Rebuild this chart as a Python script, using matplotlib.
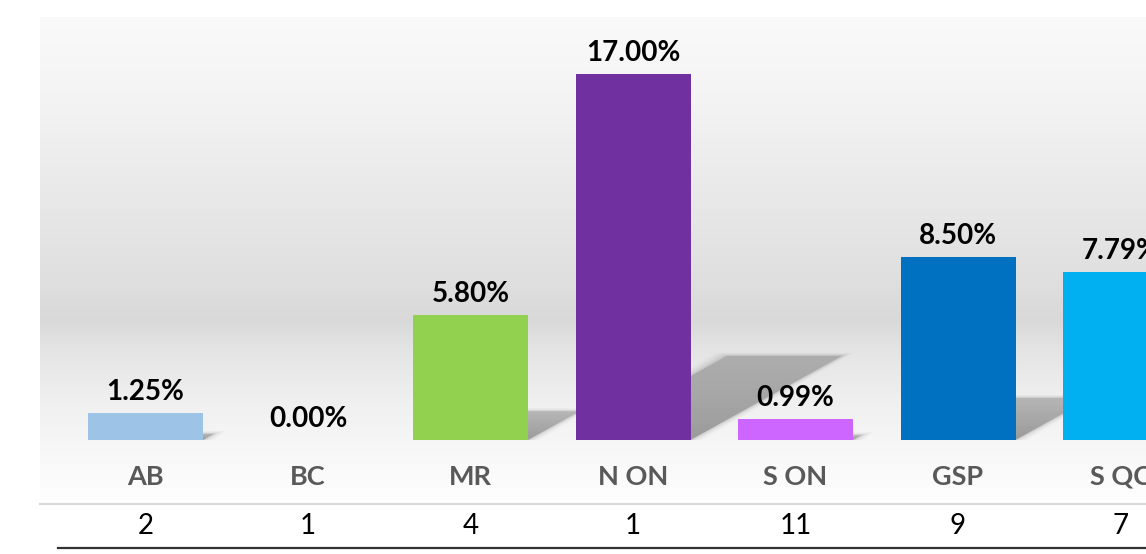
import numpy as np
import matplotlib
matplotlib.use("Agg")
import matplotlib.pyplot as plt
from matplotlib.patches import Polygon
from matplotlib import transforms
from matplotlib.colors import LinearSegmentedColormap

# ---- data ----
categories = ["AB", "BC", "MR", "N ON", "S ON", "GSP", "S QC"]
values = [1.25, 0.00, 5.80, 17.00, 0.99, 8.50, 7.79]
counts = [2, 1, 4, 1, 11, 9, 7]
bar_colors = ["#9DC3E6", "#A6A6A6", "#92D050", "#7030A0", "#CC66FF", "#0070C0", "#00B0F0"]

plt.rcParams['font.family'] = ['Lato', 'DejaVu Sans']

W, H = 1146, 554
fig = plt.figure(figsize=(W / 100, H / 100), dpi=100)
fig.patch.set_facecolor("white")

# axes region in pixels
ax_l, ax_r, ax_t, ax_b = 40, 1146, 17, 500
ax = fig.add_axes([ax_l / W, (H - ax_b) / H, (ax_r - ax_l) / W, (ax_b - ax_t) / H])

step_px = 162.5
first_center_px = 145.5
base_px = 440
px_per_unit = 366 / 17.0
xmin = (ax_l - first_center_px) / step_px
xmax = (ax_r - first_center_px) / step_px
ymin = -(ax_b - base_px) / px_per_unit
ymax = ymin + (ax_b - ax_t) / px_per_unit
ax.set_xlim(xmin, xmax)
ax.set_ylim(ymin, ymax)
ax.axis("off")

# background gradient (rows from top to bottom of axes)
stops_px = [17, 100, 200, 280, 320, 350, 400, 460, 500]
stops_gray = [0.98, 0.955, 0.91, 0.875, 0.85, 0.895, 0.94, 0.975, 0.995]
rows = np.arange(ax_t, ax_b)
g = np.interp(rows, stops_px, stops_gray)
img = np.dstack([g, g, g]).reshape(len(rows), 1, 3)
ax.imshow(img, extent=[xmin, xmax, ymin, ymax], aspect="auto", zorder=0,
          interpolation="bilinear")

x = np.arange(len(categories))
bw = 115 / step_px

# shadows
shade_cmap = LinearSegmentedColormap.from_list("sh", [(0, 0, 0, 0.26), (0, 0, 0, 0.12)])
for xi, v in zip(x, values):
    if v <= 0:
        continue
    h = 0.23 * v
    dx = 1.8 * h * px_per_unit / step_px
    x0, x1 = xi - bw / 2, xi + bw / 2
    pts = [(x0, 0), (x1, 0), (x1 + dx, h), (x0 + dx, h)]
    poly = Polygon(pts, closed=True, facecolor="none", edgecolor="none")
    ax.add_patch(poly)
    grad = np.linspace(0, 1, 50).reshape(-1, 1)
    im = ax.imshow(grad, cmap=shade_cmap, extent=[x0, x1 + dx, 0, h],
                   origin="lower", aspect="auto", zorder=1)
    im.set_clip_path(poly)
    # soft edge
    for k, a in [(0.015, 0.05), (0.03, 0.04), (0.05, 0.03), (0.07, 0.02)]:
        pe = Polygon([(x0, 0), (x1 + k, 0), (x1 + dx + k, h + k * 2),
                      (x0 + dx - k, h + k * 2)], closed=True,
                     facecolor="black", alpha=a, edgecolor="none", zorder=1)
        ax.add_patch(pe)
ax.set_xlim(xmin, xmax)
ax.set_ylim(ymin, ymax)

ax.bar(x, values, width=bw, color=bar_colors, zorder=2)

for xi, v in zip(x, values):
    ax.annotate(f"{v:.2f}%", (xi, v), xytext=(0, 13), textcoords="offset pixels",
                ha="center", va="baseline", fontsize=20, fontweight="bold",
                color="black", zorder=3, annotation_clip=False)

cat_y = -(477 - base_px) / px_per_unit
for xi, c in zip(x, categories):
    ax.text(xi, cat_y, c, ha="center", va="center", fontsize=19.5,
            fontweight="bold", color="#595959", zorder=3)

# table row
trans = transforms.blended_transform_factory(ax.transData, fig.transFigure)
for xi, n in zip(x, counts):
    fig.text(xi, (H - 526) / H, str(n), transform=trans, ha="center",
             va="center", fontsize=20, color="black")

fig.add_artist(plt.Line2D([40 / W, 1], [(H - 504) / H] * 2, color="#d9d9d9", lw=1.6))
fig.add_artist(plt.Line2D([58 / W, 1], [(H - 548) / H] * 2, color="#333333", lw=1.6))

fig.savefig("out.png", dpi=100, facecolor="white")
